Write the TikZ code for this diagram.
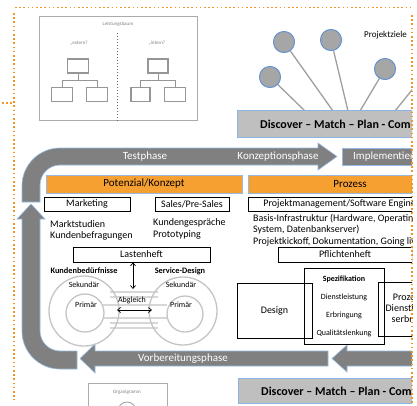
\documentclass[tikz,border=0pt]{standalone}
\usepackage{fontspec}
\setmainfont{Carlito}
\usetikzlibrary{arrows.meta}
\definecolor{dotor}{RGB}{243,150,40}
\definecolor{bandgray}{RGB}{128,128,128}
\definecolor{bandedge}{RGB}{150,185,225}
\definecolor{orfill}{RGB}{247,160,50}
\definecolor{barfill}{RGB}{191,191,191}
\definecolor{baredge}{RGB}{141,179,226}
\definecolor{ringc}{RGB}{196,196,196}
\definecolor{bonec}{RGB}{215,215,215}
\definecolor{pinfill}{RGB}{166,166,166}
\definecolor{pinedge}{RGB}{95,145,210}
\definecolor{orggray}{RGB}{150,150,150}
\tikzset{
  box/.style={draw=black, line width=0.6pt, minimum height=14pt, inner sep=0pt, font=\fontsize{10}{12}\selectfont},
  hdr/.style={draw=bandedge, line width=0.6pt, fill=orfill, minimum height=18pt, inner sep=0pt, font=\fontsize{11}{13}\selectfont},
  band/.style={fill=bandgray, draw=bandedge, line width=0.6pt},
  bandtxt/.style={text=white, font=\fontsize{11}{13}\selectfont, inner sep=0pt},
  pin/.style={circle, fill=pinfill, draw=pinedge, line width=0.8pt, minimum size=21pt, inner sep=0pt},
  stick/.style={draw=gray!75, line width=1.3pt},
  bar/.style={fill=barfill, draw=baredge, line width=0.8pt, inner sep=0pt},
  bartxt/.style={font=\bfseries\fontsize{12}{14}\selectfont, inner sep=0pt, anchor=west},
  txt/.style={font=\fontsize{10}{11.5}\selectfont, inner sep=0pt, align=left, anchor=west},
  tinytxt/.style={font=\fontsize{5}{6}\selectfont, text=gray, inner sep=0pt},
  orgbox/.style={draw=orggray, line width=1.2pt, inner sep=0pt, minimum height=14pt},
  orgline/.style={draw=orggray, line width=0.7pt},
  ring/.style={circle, draw=ringc, line width=1.3pt, inner sep=0pt},
  bone/.style={draw=bonec, line width=1.4pt},
  ringtxt/.style={font=\fontsize{8}{9}\selectfont, inner sep=0pt},
  boldtxt/.style={font=\bfseries\fontsize{8.3}{9}\selectfont, inner sep=0pt},
  dbl/.style={{Straight Barb[length=3pt,width=5pt]}-{Straight Barb[length=3pt,width=5pt]}, line width=0.7pt},
  dotline/.style={draw=dotor, line width=1.6pt, dash pattern=on 1.6pt off 2.6pt},
  plainbox/.style={draw=black, line width=0.7pt, inner sep=0pt}
}
\begin{document}
\begin{tikzpicture}[x=1pt,y=-1pt]
\useasboundingbox (0,0) rectangle (417,405);
\begin{scope}
\clip (0,0) rectangle (412,405);

% ---------- Leistungsbaum ----------
\node[draw=orggray!80, line width=1pt, minimum width=158pt, minimum height=104pt, inner sep=0pt, anchor=north west] (lbaum) at (39,16) {};
\node[tinytxt] (lbtitle) at (118,24) {Leistungsbaum};
\coordinate (divtop) at (117,33);
\draw[dotted, line width=1pt, gray!80!black] (divtop) -- (lbaum.south -| divtop);
\node[tinytxt] (ext) at (79,43) {„extern?};
\node[tinytxt] (int) at (157,43) {„intern?};
\node[orgbox, minimum width=21pt] (l0) at (78,66) {};
\node[orgbox, minimum width=21pt] (l1) at (62,94.5) {};
\node[orgbox, minimum width=21pt] (l2) at (97,94.5) {};
\coordinate (lj) at (78,80);
\draw[orgline] (l0.south) -- (lj);
\draw[orgline] (lj) -| (l1.north);
\draw[orgline] (lj) -| (l2.north);
\node[orgbox, minimum width=20pt] (r0) at (158,66) {};
\node[orgbox, minimum width=19pt] (r1) at (140.5,94.5) {};
\node[orgbox, minimum width=21pt] (r2) at (175,94.5) {};
\coordinate (rj) at (158,80);
\draw[orgline] (r0.south) -- (rj);
\draw[orgline] (rj) -| (r1.north);
\draw[orgline] (rj) -| (r2.north);

% ---------- Projektziele ----------
\node[font=\fontsize{9}{10}\selectfont, inner sep=0pt, anchor=west] (pz) at (364,35) {Projektziele};
\node[pin] (p1) at (270,77) {};
\node[pin] (p2) at (284,42) {};
\node[pin] (p3) at (331,40) {};
\node[pin] (p4) at (385,69) {};
\coordinate (b1) at (305,111);
\coordinate (b2) at (333,111);
\coordinate (b3) at (348,111);
\coordinate (b4) at (360,111);
\coordinate (b5) at (395,111);
\coordinate (p5) at (420,80);
\draw[stick] (p1) -- (b1);
\draw[stick] (p2) -- (b2);
\draw[stick] (p3) -- (b3);
\draw[stick] (p4) -- (b4);
\draw[stick] (b5) -- (p5);
\node[pin] at (p1) {};
\node[pin] at (p2) {};
\node[pin] at (p3) {};
\node[pin] at (p4) {};
\node[bar, anchor=north west, minimum width=183pt, minimum height=27pt] (topbar) at (237,110) {};
\node[bartxt] (toptxt) at (260,124) {Discover – Match – Plan - Com};

% ---------- big arrows ----------
\path[band] (22,202) -- (22,186) .. controls (22,165) and (39,148) .. (60,148) -- (318,148) -- (318,143) -- (337,156.5) -- (318,170) -- (318,165) -- (60,165) .. controls (49,165) and (40,174) .. (40,185) -- (40,202) -- cycle;
\path[band] (17,219) -- (31,204) -- (45,219) -- (40,219) -- (40,331) .. controls (40,342) and (49,351) .. (60,351) -- (77,351) -- (77,369) -- (60,369) .. controls (39,369) and (22,352) .. (22,331) -- (22,219) -- cycle;
\path[band] (80,358.5) -- (95,344) -- (95,351) -- (328,351) -- (328,366) -- (95,366) -- (95,373) -- cycle;
\path[band] (332,358.5) -- (347,345) -- (347,351) -- (420,351) -- (420,366) -- (347,366) -- (347,372) -- cycle;
\path[band] (342,148) rectangle (420,165);
\node[bandtxt] (test) at (145,156.5) {Testphase};
\node[bandtxt] (konz) at (278,156.5) {Konzeptionsphase};
\node[bandtxt, anchor=west] (impl) at (353,156.5) {Implementierung};
\node[bandtxt] (vorb) at (183,358.5) {Vorbereitungsphase};

% ---------- headers ----------
\node[hdr, minimum width=196pt] (pot) at (144,184) {Potenzial/Konzept};
\node[hdr, minimum width=204pt] (proz) at (350,184) {Prozess};

\node[box, minimum width=86pt] (mkt) at (87,204) {Marketing};
\node[box, minimum width=74pt] (sales) at (192,204) {Sales/Pre-Sales};
\node[box, minimum width=204pt] (pm) at (350,204) {Projektmanagement/Software Engineering};

\node[txt] (mtxt) at (50,230.5) {Marktstudien\\Kundenbefragungen};
\node[txt] (stxt) at (153,229) {Kundengespräche\\Prototyping};
\node[txt] (ptxt) at (253,230) {Basis-Infrastruktur (Hardware, Operating\\System, Datenbankserver)\\Projektkickoff, Dokumentation, Going live};

\node[box, minimum width=137pt, minimum height=15pt] (lasten) at (141.5,254.5) {Lastenheft};
\node[box, minimum width=134pt, minimum height=15pt] (pflicht) at (345,254.5) {Pflichtenheft};

% ---------- rings ----------
\draw[bone] (110,292) -- (158,292);
\draw[bone] (110,297) -- (158,297);
\draw[bone] (110,323) -- (158,323);
\draw[bone] (110,328) -- (158,328);
\draw[bone] (103,305) -- (167,305);
\draw[bone] (103,318) -- (167,318);
\node[ring, minimum size=70pt] (ringL) at (84,311) {};
\node[ring, minimum size=38pt] (innL) at (85,313) {};
\node[ring, minimum size=68pt] (ringR) at (183,311) {};
\node[ring, minimum size=36pt] (innR) at (185,314) {};
\node[boldtxt] (kb) at (84,271) {Kundenbedürfnisse};
\node[boldtxt] (sd) at (180,271) {Service-Design};
\node[ringtxt] (sekL) at (84,285) {Sekundär};
\node[ringtxt] (priL) at (86,305) {Primär};
\node[ringtxt] (sekR) at (181,285) {Sekundär};
\node[ringtxt] (priR) at (181,305) {Primär};
\node[font=\fontsize{8}{9}\selectfont, inner sep=0pt] (abgl) at (132,300) {Abgleich};
\coordinate (abgT) at (133,289);
\coordinate (abgL) at (117,310);
\coordinate (abgR) at (152,310);
\draw[dbl] (lasten.south -| abgT) -- (abgT);
\draw[dbl] (abgL) -- (abgR);

% ---------- design / spezifikation ----------
\node[plainbox, minimum width=75pt, minimum height=55pt, font=\fontsize{10}{12}\selectfont] (design) at (274.5,310.5) {Design};
\node[plainbox, minimum width=80pt, minimum height=76pt, align=center, font=\fontsize{8}{18}\selectfont] (spez) at (344,306.5) {\textbf{Spezifikation}\\Dienstleistung\\Erbringung\\Qualitätslenkung};
\node[plainbox, minimum width=76pt, minimum height=54pt, align=center, font=\fontsize{10}{11}\selectfont] (pdl) at (416,309) {Prozess der\\Dienstleistung-\\serbringung};

% ---------- bottom ----------
\node[bar, anchor=north west, minimum width=182pt, minimum height=25pt] (botbar) at (238,378) {};
\node[bartxt] (bottxt) at (261,391) {Discover – Match – Plan - Com};
\node[draw=orggray!80, line width=1pt, minimum width=79pt, minimum height=30pt, inner sep=0pt, anchor=north west] (orga) at (88,383) {};
\node[tinytxt] (orgatxt) at (127,392) {Organigramm};
\node[circle, draw=orggray!80, line width=1pt, minimum size=18pt, inner sep=0pt] (orgc) at (127,411) {};
\end{scope}

% ---------- orange dotted frame ----------
\draw[dotline] (15,7.5) -- (411,7.5);
\draw[dotline] (14,13) -- (14,400);
\draw[dotline] (412,15) -- (412,405);
\draw[dotline] (2,103) -- (12,103);
\end{tikzpicture}
\end{document}
